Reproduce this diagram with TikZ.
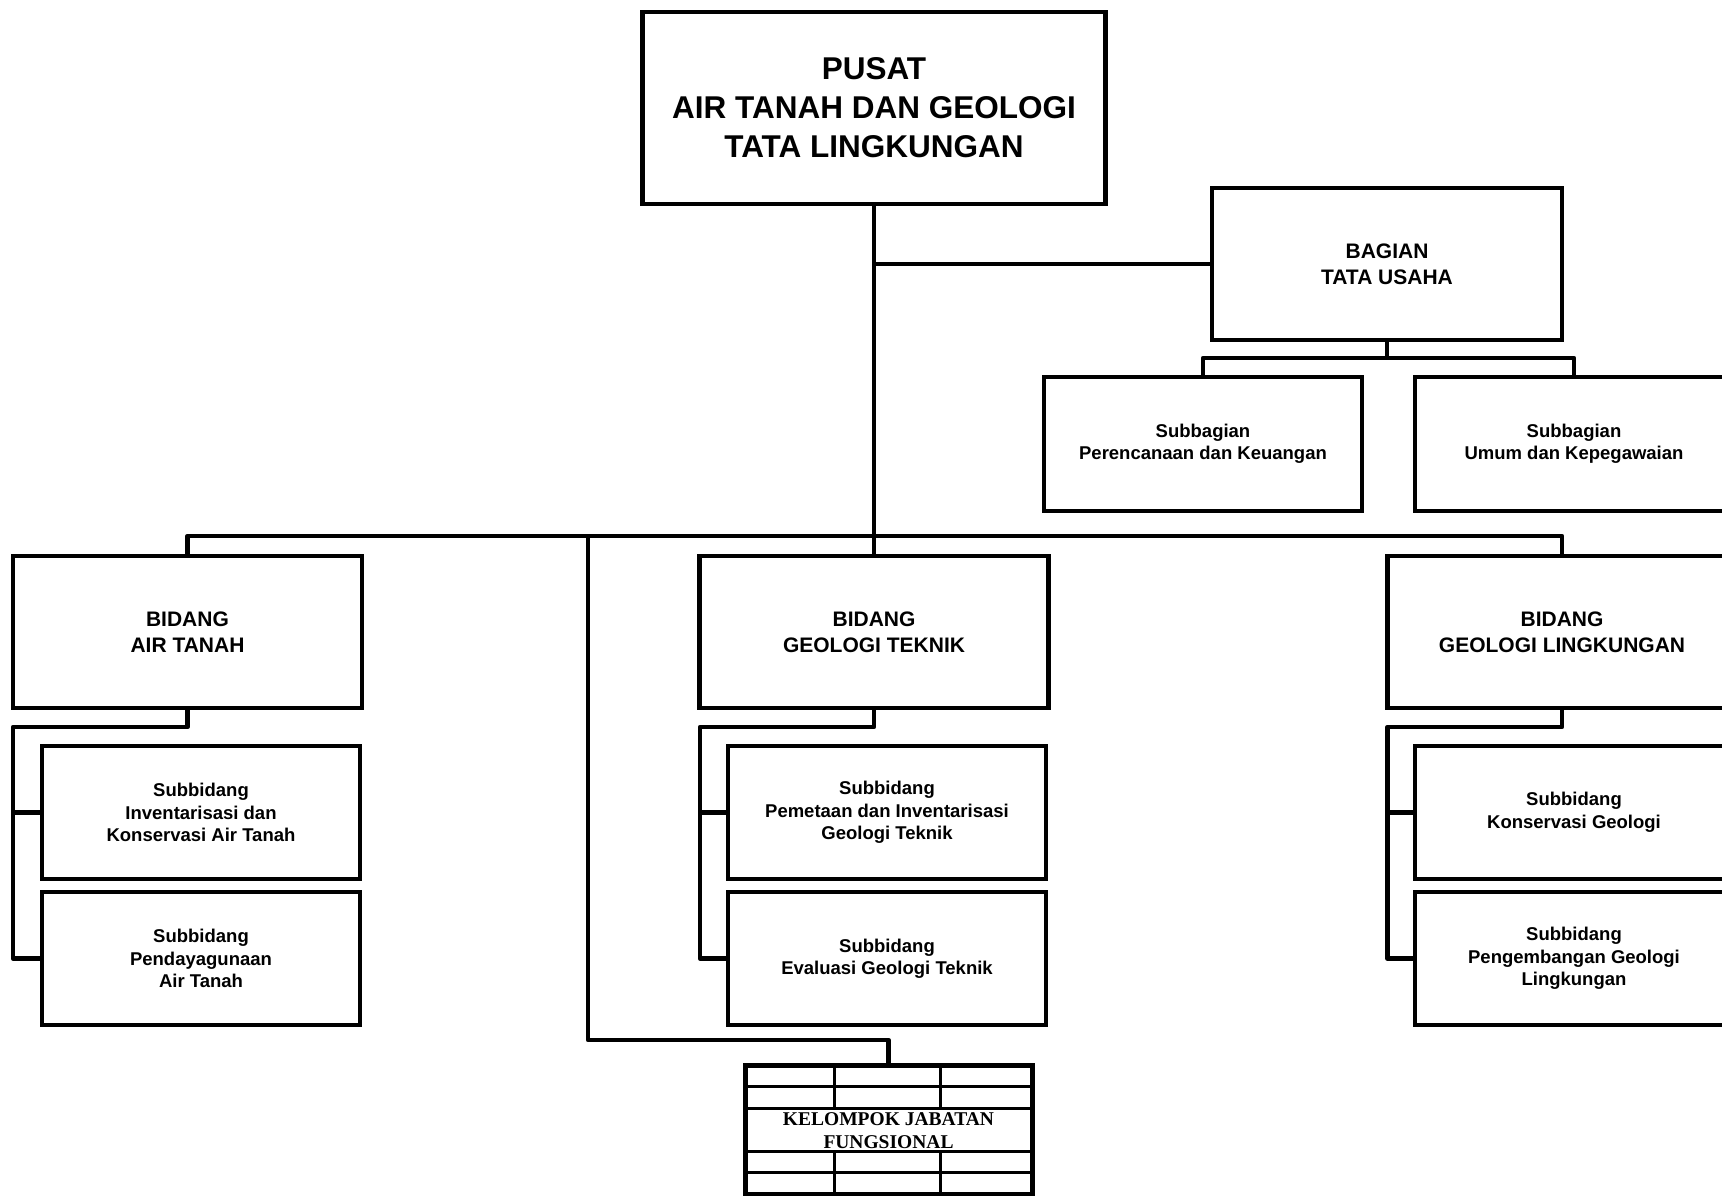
\documentclass[tikz,border=0pt]{standalone}
\usepackage{fontspec}
\newfontfamily\arialf{Liberation Sans}
\newfontfamily\timesf{Liberation Serif}
\begin{document}
\begin{tikzpicture}[x=1pt,y=-1pt,
  conn/.style={line width=4.5pt, line join=round},
  bigbox/.style={draw, line width=4.5pt, fill=white, align=center, inner sep=0pt,
     minimum width=349pt, minimum height=152pt,
     font=\arialf\bfseries\fontsize{21}{26}\selectfont},
  topbox/.style={draw, line width=4.5pt, fill=white, align=center, inner sep=0pt,
     minimum width=463pt, minimum height=192pt,
     font=\arialf\bfseries\fontsize{31.5}{39}\selectfont},
  subbox/.style={draw, line width=4.5pt, fill=white, align=center, inner sep=0pt,
     minimum width=318pt, minimum height=133pt,
     font=\arialf\bfseries\fontsize{18.5}{22.5}\selectfont},
  gridline/.style={line width=3pt},
  kjftext/.style={align=center, inner sep=0pt,
     font=\timesf\bfseries\fontsize{19.5}{23}\selectfont}
]
\useasboundingbox (0,0) rectangle (1722,1196);

% nodes
\node[topbox] (pusat) at (874,108) {PUSAT\\AIR TANAH DAN GEOLOGI\\TATA LINGKUNGAN};
\node[bigbox, minimum width=350pt] (bagian) at (1387,264) {BAGIAN\\TATA USAHA};
\node[subbox, minimum height=134pt] (sb1) at (1203,444) {Subbagian\\Perencanaan dan Keuangan};
\node[subbox, minimum height=134pt] (sb2) at (1574,444) {Subbagian\\Umum dan Kepegawaian};

\node[bigbox] (bat) at (187.5,632) {BIDANG\\AIR TANAH};
\node[bigbox] (bgt) at (874,632) {BIDANG\\GEOLOGI TEKNIK};
\node[bigbox] (bgl) at (1562,632) {BIDANG\\GEOLOGI LINGKUNGAN};

\node[subbox] (s11) at (201,812.5) {Subbidang\\Inventarisasi dan\\Konservasi Air Tanah};
\node[subbox] (s12) at (201,958.5) {Subbidang\\Pendayagunaan\\Air Tanah};
\node[subbox] (s21) at (887,812.5) {Subbidang\\Pemetaan dan Inventarisasi\\Geologi Teknik};
\node[subbox] (s22) at (887,958.5) {Subbidang\\Evaluasi Geologi Teknik};
\node[subbox] (s31) at (1574,812.5) {Subbidang\\Konservasi Geologi};
\node[subbox] (s32) at (1574,958.5) {Subbidang\\Pengembangan Geologi\\Lingkungan};

\node[fill=white, inner sep=0pt, outer sep=0pt, minimum width=287pt, minimum height=129pt] (kjf) at (888.5,1129.5) {};

% coordinates
\coordinate (bus) at (874,536);
\coordinate (bgj) at (1387,358);
\coordinate (kb) at (588,536);
\coordinate (kc) at (588,1040);
\coordinate (l1) at (13,727);
\coordinate (l2) at (700,727);
\coordinate (l3) at (1387.5,727);

% connectors
\draw[conn] (pusat.south) -- (bgt.north);
\draw[conn] (pusat.south |- bagian.west) -- (bagian.west);
\draw[conn] (bagian.south) -- (bgj);
\draw[conn] (sb1.north) |- (bgj) -| (sb2.north);
\draw[conn] (bat.north) |- (bus) -| (bgl.north);
\draw[conn] (kb) -- (kc) -| (kjf.north);

\draw[conn] (bat.south) |- (l1) |- (s12.west);
\draw[conn] (l1 |- s11.west) -- (s11.west);
\draw[conn] (bgt.south) |- (l2) |- (s22.west);
\draw[conn] (l2 |- s21.west) -- (s21.west);
\draw[conn] (bgl.south) |- (l3) |- (s32.west);
\draw[conn] (l3 |- s31.west) -- (s31.west);

% kelompok grid
\node[kjftext] (kjt) at (888.5,1131) {KELOMPOK JABATAN\\FUNGSIONAL};
\draw[gridline] (kjf.west |- 0,1086) -- (kjf.east |- 0,1086);
\draw[gridline] (kjf.west |- 0,1108) -- (kjf.east |- 0,1108);
\draw[gridline] (kjf.west |- 0,1151) -- (kjf.east |- 0,1151);
\draw[gridline] (kjf.west |- 0,1172) -- (kjf.east |- 0,1172);
\draw[gridline] (834,1065) -- (834,1108);
\draw[gridline] (940,1065) -- (940,1108);
\draw[gridline] (834,1151) -- (834,1194);
\draw[gridline] (940,1151) -- (940,1194);
\draw[line width=5pt] (kjf.north west) rectangle (kjf.south east);
\end{tikzpicture}
\end{document}
